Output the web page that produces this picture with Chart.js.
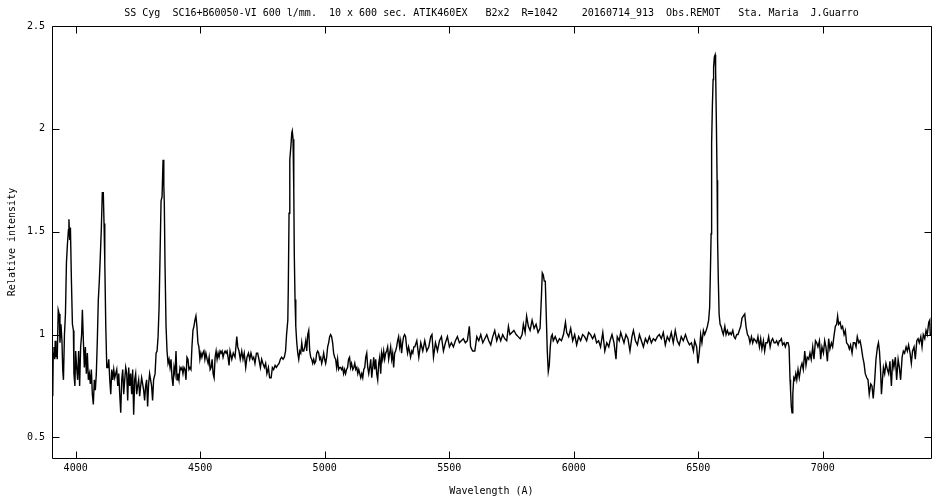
<!DOCTYPE html>
<html>
<head>
<meta charset="utf-8">
<script src="https://cdn.jsdelivr.net/npm/chart.js@4/dist/chart.umd.min.js"></script>
<style>
  html, body { margin: 0; padding: 0; background: #fff; }
  #wrap { width: 950px; height: 500px; }
</style>
</head>
<body>
<div id="wrap"><canvas id="spectrum" width="950" height="500"></canvas></div>
<script>
// SS Cyg spectrum
var titleText = 'SS Cyg  SC16+B60050-VI 600 l/mm.  10 x 600 sec. ATIK460EX   B2x2  R=1042    20160714_913  Obs.REMOT   Sta. Maria  J.Guarro';

var xTicks = [4000, 4500, 5000, 5500, 6000, 6500, 7000];
var yTicks = [0.5, 1, 1.5, 2, 2.5];

var wavelength = [
  3908,3910,3913,3916,3918,3921,3924,3926,3930,3934,
  3937,3941,3945,3948,3951,3955,3959,3963,3967,3971,
  3973,3976,3979,3983,3987,3991,3993,3997,4000,4004,
  4008,4012,4016,4020,4024,4027,4031,4035,4039,4043,
  4047,4051,4055,4059,4063,4067,4071,4075,4079,4083,
  4087,4091,4095,4099,4103,4107,4111,4114,4117,4121,
  4125,4129,4133,4137,4141,4145,4149,4153,4157,4161,
  4165,4169,4173,4177,4181,4185,4189,4193,4197,4201,
  4205,4209,4213,4217,4221,4225,4229,4233,4237,4241,
  4245,4249,4253,4257,4261,4265,4269,4273,4277,4281,
  4285,4289,4293,4297,4301,4305,4309,4313,4319,4323,
  4327,4331,4335,4339,4343,4347,4351,4354,4356,4359,
  4363,4367,4371,4375,4379,4383,4387,4391,4395,4399,
  4403,4407,4411,4415,4419,4423,4427,4431,4435,4439,
  4443,4447,4451,4455,4459,4463,4467,4471,4475,4479,
  4483,4487,4491,4495,4499,4503,4507,4511,4515,4519,
  4523,4528,4532,4536,4540,4544,4548,4552,4556,4560,
  4564,4568,4572,4576,4580,4584,4588,4592,4596,4600,
  4604,4608,4612,4616,
  4620,4627,4633,4640,4647,4651,4656,4661,4667,4672,
  4677,4683,4688,4694,4699,4704,4710,4715,4720,4726,
  4731,4736,4742,4747,4752,4758,4763,4768,4774,4779,
  4785,4790,4795,4801,4806,4811,4817,4822,4827,4833,
  4838,4843,4847,4852,4854,4857,4860,4864,4868,4870,
  4873,4876,4878,4881,4884,4888,4892,4896,4900,4904,
  4908,4912,4916,4920,4924,4928,4932,4936,4940,4944,
  4948,4952,4956,4960,4964,4968,4972,4976,4980,4984,
  4988,4992,4996,5000,5004,5008,5012,5016,5020,5024,
  5028,5032,5036,5040,5044,5048,5052,5056,5060,5064,
  5068,5072,5076,5080,5084,5088,5092,5096,5100,5104,
  5108,5113,5117,5121,5125,5129,5133,5137,5141,5145,
  5149,5153,5157,5161,5165,5169,5173,5177,5181,5185,
  5189,5193,5197,5201,5205,5209,5213,5217,5221,5225,
  5229,5233,5237,5241,5245,5249,5253,5257,5261,5265,
  5269,5273,5277,5281,5285,5289,5293,5297,5301,5305,
  5309,5313,5317,5321,5325,5329,5333,5337,5341,5345,
  5350,5354,5358,
  5362,5370,5378,5386,5394,5402,5410,5418,5426,5431,
  5437,5445,5453,5461,5469,5477,5485,5493,5501,5509,
  5517,5525,5533,5541,5549,5557,5565,5573,5581,5586,
  5594,5603,5611,5619,5627,5635,5643,5651,5659,5667,
  5675,5683,5691,5699,5707,5715,5723,5731,5738,5744,
  5752,5760,5769,5777,5785,5793,5798,5805,5811,5818,
  5825,5833,5841,5849,5857,5865,5870,5874,5878,5882,
  5886,5890,5894,5898,5902,5906,5910,5914,5918,5926,
  5935,5943,5951,5959,5967,5972,5980,5988,5996,6004,
  6012,6020,6028,6036,6044,6052,6060,6068,6076,6084,
  6092,6100,6108,6117,6125,6133,6141,
  6146,6154,6162,6170,6175,6183,6189,6194,6202,6210,
  6218,6226,6234,6240,6248,6256,6264,6272,6280,6288,
  6296,6304,6312,6320,6328,6336,6344,6352,6360,6368,
  6376,6384,6392,6400,6408,6416,6424,6432,6440,6449,
  6457,6465,6473,6481,6486,6494,6499,6505,6510,6515,
  6521,6526,6532,6537,6542,6546,6549,6552,6554,6557,
  6560,6562,6565,6568,6570,6573,6576,6578,6581,6584,
  6588,6592,6596,6601,6607,6612,6617,6623,6628,6633,
  6639,6644,6649,6655,6660,6665,6671,6676,6681,6687,
  6692,6698,6703,6708,6714,6719,6724,6730,6735,6740,
  6746,6751,6756,6762,6767,6772,6778,6783,6789,6794,
  6799,6805,6810,6815,6821,6826,
  6829,6834,6839,6845,6850,6855,6861,6865,6869,6871,
  6874,6877,6880,6884,6888,6892,6896,6901,6906,6912,
  6917,6922,6928,6933,6938,6944,6949,6954,6960,6965,
  6971,6976,6981,6987,6992,6997,7003,7008,7013,7019,
  7024,7029,7035,7040,7046,7051,7056,7060,7064,7070,
  7075,7080,7086,7091,7096,7102,7107,7112,7118,7123,
  7129,7134,7139,7145,7150,7155,7161,7166,7171,7177,
  7182,7187,7193,7198,7203,7209,7214,7220,7224,7228,
  7232,7236,7240,7244,7249,7254,7260,7265,7270,7276,
  7281,7286,7292,7297,7303,7308,7313,7319,7324,7329,
  7335,7340,7345,7351,7356,7361,7367,7372,7378,7383,
  7388,7394,7399,7404,7410,7415,7420,7426,7430,7432,7435
];

var intensity = [
  .70,.91,.94,.88,.97,.89,.92,.88,1.12,1.10,
  .96,1.05,.97,.83,.78,1.00,1.10,1.35,1.44,1.51,
  1.56,1.46,1.52,1.26,1.05,1.02,.81,.75,.92,.84,
  .78,.92,.75,.94,1.00,1.12,.97,.84,.94,.81,
  .91,.78,.81,.76,.83,.71,.66,.78,.73,.81,
  .97,1.17,1.26,1.38,1.51,1.69,1.69,1.54,1.35,1.04,
  .84,.84,.88,.78,.71,.83,.78,.83,.79,.81,
  .83,.75,.81,.71,.62,.78,.83,.71,.78,.84,
  .81,.68,.84,.75,.81,.71,.83,.61,.78,.81,
  .71,.75,.78,.70,.75,.79,.76,.73,.68,.75,
  .78,.65,.76,.81,.78,.75,.68,.78,.81,.91,
  .92,.99,1.13,1.39,1.65,1.67,1.85,1.73,1.64,1.33,
  1.04,.92,.86,.88,.84,.88,.79,.75,.84,.81,
  .92,.78,.81,.78,.84,.83,.84,.81,.84,.83,
  .78,.89,.88,.83,.84,.83,.94,1.02,1.04,1.07,
  1.09,1.04,.96,.94,.88,.91,.89,.91,.92,.88,
  .91,.88,.86,.89,.83,.84,.88,.81,.79,.89,
  .92,.88,.91,.89,.92,.91,.92,.89,.91,.92,
  .91,.92,.89,.85,
  .92,.88,.91,.89,.99,.94,.92,.88,.92,.88,
  .91,.84,.89,.91,.88,.91,.88,.89,.86,.91,
  .91,.88,.84,.88,.86,.84,.86,.81,.84,.79,
  .79,.84,.83,.85,.84,.85,.86,.88,.89,.88,
  .89,.92,1.00,1.07,1.23,1.59,1.85,1.91,1.98,1.99,
  1.95,1.70,1.39,1.17,1.04,.96,.91,.88,.92,.91,
  .96,.92,.92,.94,.97,.92,1.00,1.02,.92,.89,
  .88,.86,.88,.86,.87,.91,.92,.91,.88,.89,
  .86,.88,.91,.88,.86,.89,.94,.96,.99,1.00,
  .99,.96,.91,.89,.88,.84,.88,.83,.84,.84,
  .83,.84,.81,.83,.81,.83,.84,.88,.89,.84,
  .86,.83,.84,.86,.83,.84,.81,.83,.81,.79,
  .81,.79,.83,.84,.89,.91,.84,.81,.84,.88,
  .79,.84,.89,.83,.88,.81,.78,.86,.89,.81,
  .91,.88,.92,.88,.91,.92,.94,.88,.91,.94,
  .88,.91,.84,.91,.92,.94,.97,.99,.94,.97,
  .91,.96,.99,1.00,.99,.94,.91,.94,.92,.89,
  .92,.91,.94,
  .94,.97,.89,.96,.92,.97,.92,.94,.99,1.00,
  .89,.96,.92,.97,.99,.92,.96,.99,.94,.96,
  .94,.97,.99,.96,.97,.98,.96,.97,1.04,.94,
  .92,.92,.99,.97,1.00,.96,.98,1.00,.97,.95,
  .99,1.02,.97,1.00,.97,1.00,.98,.97,1.04,1.00,
  1.01,1.02,1.00,.99,.98,1.00,1.05,1.01,1.09,1.04,
  1.02,1.07,1.03,1.05,1.01,1.03,1.17,1.30,1.29,1.26,
  1.26,1.09,.92,.82,.85,.94,.99,1.00,.97,.99,
  .96,.98,.97,1.00,1.06,1.01,.99,1.03,.97,1.00,
  .95,.99,.97,1.00,.99,.97,1.01,1.00,.98,1.00,
  .96,.97,.94,1.01,.92,.96,.94,
  .97,1.00,.96,.88,.99,.97,1.01,.99,.96,1.00,
  .98,.92,.99,1.02,.97,.95,1.00,.97,.94,.98,
  .96,.99,.96,.98,.97,.99,1.00,.98,1.01,.95,
  .99,.97,1.01,.96,1.02,.97,.95,.99,.97,1.00,
  .97,.95,.96,.92,.97,.94,.86,.92,1.00,.96,
  1.02,1.00,1.02,1.04,1.07,1.13,1.30,1.49,1.93,2.11,
  2.24,2.30,2.35,2.36,2.29,2.04,1.75,1.46,1.26,1.10,
  1.05,1.04,1.02,1.00,1.04,1.00,1.02,1.00,1.01,1.00,
  1.02,.99,.98,1.00,1.00,1.02,1.04,1.08,1.09,1.10,
  1.04,1.00,.99,.96,.99,.96,.98,.97,.96,.99,
  .94,.98,.93,.97,.92,.96,.96,.99,.94,.97,
  .98,.96,.96,.97,.95,.97,
  .97,.98,.95,.96,.94,.96,.96,.94,.78,.73,
  .65,.62,.71,.79,.78,.81,.78,.83,.79,.84,
  .86,.83,.92,.85,.89,.88,.91,.88,.94,.88,
  .97,.96,.94,.97,.88,.94,.91,.97,.94,.87,
  .98,.93,.96,.94,1.00,1.04,1.05,1.09,1.05,1.06,
  1.03,1.04,1.00,1.02,.96,.95,.93,.95,.91,.96,
  .96,.94,.99,.96,.97,.94,.89,.86,.81,.79,
  .78,.71,.76,.75,.69,.78,.88,.94,.96,.92,
  .84,.71,.78,.84,.81,.86,.83,.81,.87,.75,
  .88,.84,.89,.78,.88,.84,.78,.89,.92,.91,
  .94,.92,.95,.91,.86,.92,.94,.88,.97,.98,
  .96,.99,.94,1.00,.98,1.02,1.00,1.06,1.07,1.00,1.00
];

var monoFont = "'DejaVu Sans Mono', monospace";
Chart.defaults.font.family = monoFont;
Chart.defaults.font.size = 10;
Chart.defaults.color = '#000';

// gnuplot style frame with inward ticks + title over plot area
var framePlugin = {
  id: 'frame',
  afterDraw: function (chart) {
    var ctx = chart.ctx;
    var a = chart.chartArea;
    var xs = chart.scales.x, ys = chart.scales.y;
    var L = Math.round(a.left) + 0.5, R = Math.round(a.right) + 0.5;
    var T = Math.round(a.top) + 0.5, B = Math.round(a.bottom) + 0.5;
    var tl = 7;
    ctx.save();
    ctx.strokeStyle = '#000';
    ctx.lineWidth = 1;
    ctx.beginPath();
    ctx.rect(L, T, R - L, B - T);
    xTicks.forEach(function (v) {
      var px = Math.round(xs.getPixelForValue(v)) + 0.5;
      ctx.moveTo(px, B); ctx.lineTo(px, B - tl);
      ctx.moveTo(px, T); ctx.lineTo(px, T + tl);
    });
    yTicks.forEach(function (v) {
      var py = Math.round(ys.getPixelForValue(v)) + 0.5;
      ctx.moveTo(L, py); ctx.lineTo(L + tl, py);
      ctx.moveTo(R, py); ctx.lineTo(R - tl, py);
    });
    ctx.stroke();

    ctx.fillStyle = '#000';
    ctx.font = '10px ' + monoFont;
    ctx.textAlign = 'center';
    ctx.textBaseline = 'middle';
    ctx.fillText(titleText, (a.left + a.right) / 2, 13);
    ctx.restore();
  }
};

var spectrumChart = new Chart(document.getElementById('spectrum'), {
  type: 'line',
  data: {
    datasets: [{
      label: 'SS Cyg',
      data: wavelength.map(function (w, i) { return { x: w, y: intensity[i] }; }),
      borderColor: '#000',
      borderWidth: 1.4,
      pointRadius: 0,
      tension: 0,
      fill: false
    }]
  },
  options: {
    responsive: false,
    animation: false,
    devicePixelRatio: 1,
    layout: { padding: { top: 26, right: 19, left: 0, bottom: 0 } },
    plugins: {
      legend: { display: false },
      title: { display: false },
      tooltip: { enabled: false }
    },
    scales: {
      x: {
        type: 'linear',
        min: 3905,
        max: 7435,
        afterFit: function (scale) { scale.height = 42; },
        afterBuildTicks: function (scale) {
          scale.ticks = xTicks.map(function (v) { return { value: v }; });
        },
        ticks: {
          padding: 4,
          maxRotation: 0,
          callback: function (v) { return String(v); }
        },
        grid: { drawOnChartArea: false, drawTicks: false },
        border: { display: false },
        title: {
          display: true,
          text: 'Wavelength (A)',
          padding: { top: 3, bottom: 3 }
        }
      },
      y: {
        type: 'linear',
        min: 0.4,
        max: 2.5,
        afterFit: function (scale) { scale.width = 52; },
        afterBuildTicks: function (scale) {
          scale.ticks = yTicks.map(function (v) { return { value: v }; });
        },
        ticks: {
          padding: 7,
          callback: function (v) { return String(v); }
        },
        grid: { drawOnChartArea: false, drawTicks: false },
        border: { display: false },
        title: {
          display: true,
          text: 'Relative intensity',
          padding: { top: 6, bottom: 6 }
        }
      }
    }
  },
  plugins: [framePlugin]
});
</script>
</body>
</html>
